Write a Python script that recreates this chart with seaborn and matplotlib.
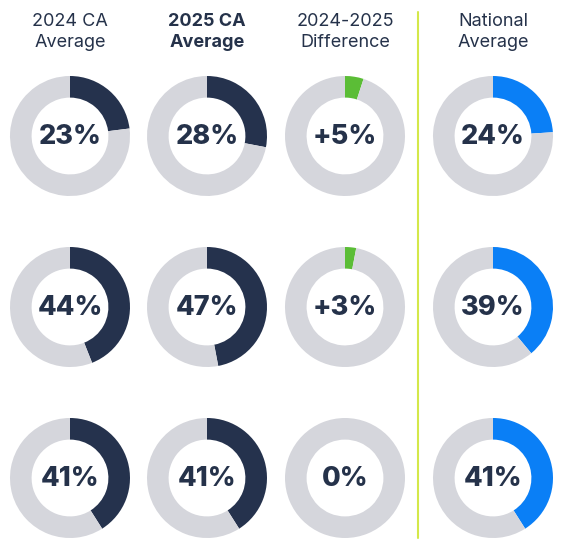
import numpy as np
import pandas as pd
import matplotlib.pyplot as plt
import seaborn as sns

# data
headers = ["2024 CA\nAverage", "2025 CA\nAverage", "2024-2025\nDifference", "National\nAverage"]
ca_2024 = [23, 44, 41]
ca_2025 = [28, 47, 41]
diff = [5, 3, 0]
national = [24, 39, 41]

columns = [ca_2024, ca_2025, diff, national]
col_colors = ["#25324d", "#25324d", "#5bbd36", "#0a7ff6"]
grey = "#d5d6dc"
text_col = "#25324a"

sns.set_theme(style="white")
plt.rcParams['font.family'] = ['Inter', 'DejaVu Sans']

W, H = 564, 550
fig = plt.figure(figsize=(W / 100, H / 100), dpi=100)

col_x = [70, 207, 345, 493]
row_y = [136, 307, 478]
R = 60

for c, vals in enumerate(columns):
    for r, v in enumerate(vals):
        cx, cy = col_x[c], row_y[r]
        ax = fig.add_axes([(cx - R) / W, 1 - (cy + R) / H, 2 * R / W, 2 * R / H])
        sizes = [v, 100 - v] if v > 0 else [100]
        colors = [col_colors[c], grey] if v > 0 else [grey]
        ax.pie(sizes, colors=colors, startangle=90, counterclock=False, radius=1,
               wedgeprops=dict(width=0.36, linewidth=0))
        label = f"+{v}%" if (c == 2 and v > 0) else f"{v}%"
        ax.text(0, -0.02, label, ha="center", va="center", fontsize=19.5,
                fontweight=800, color=text_col)
        ax.set_xlim(-1, 1)
        ax.set_ylim(-1, 1)
        ax.set_aspect("equal")
        ax.axis("off")

# headers
for c, h in enumerate(headers):
    fig.text(col_x[c] / W, 1 - 32 / H, h, ha="center", va="center", fontsize=13,
             color=text_col, fontweight="bold" if c == 1 else "normal",
             linespacing=1.3)

# divider line
fig.add_artist(plt.Line2D([418 / W, 418 / W], [1 - 12 / H, 1 - 538 / H],
                          color="#d4e84a", linewidth=1.5))

fig.savefig("out.png", dpi=100, facecolor="white")
